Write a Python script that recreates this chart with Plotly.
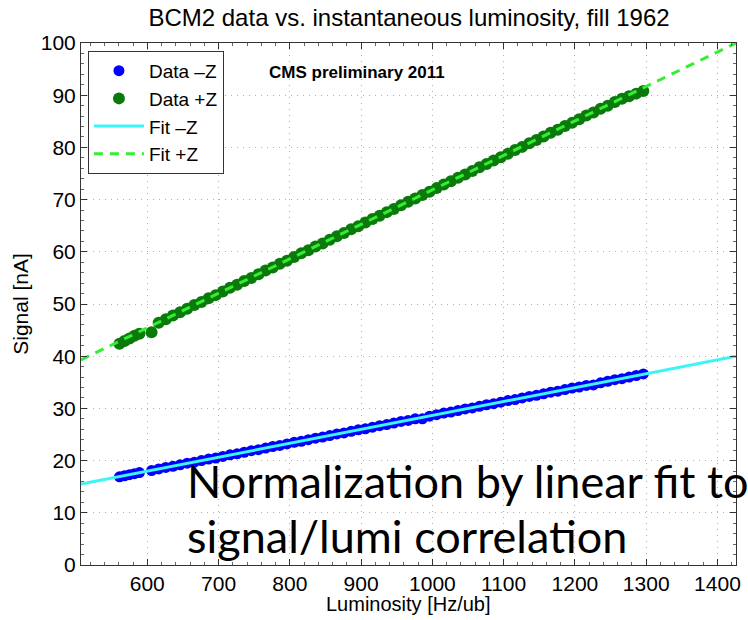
import plotly.graph_objects as go

# ---- data ----
lumi = [561, 568, 575, 582, 589,
        606, 616, 626, 636, 646, 656, 666, 676, 686, 696,
        706, 716, 726, 736, 746, 756, 766, 776, 786, 796,
        806, 816, 826, 836, 846, 856, 866, 876, 886, 896,
        906, 916, 926, 936, 946, 956, 966, 976, 986, 996,
        1006, 1016, 1026, 1036, 1046, 1056, 1066, 1076, 1086, 1096,
        1106, 1116, 1126, 1136, 1146, 1156, 1166, 1176, 1186, 1196,
        1206, 1216, 1226, 1236, 1246, 1256, 1266, 1276, 1286, 1296]

signal_minus = [16.9, 17.1, 17.3, 17.5, 17.7,
                18.1, 18.4, 18.7, 18.9, 19.2, 19.5, 19.7, 20.0, 20.3, 20.5,
                20.8, 21.1, 21.3, 21.6, 21.9, 22.1, 22.4, 22.7, 22.9, 23.2,
                23.5, 23.7, 24.0, 24.3, 24.5, 24.8, 25.1, 25.3, 25.6, 25.9,
                26.1, 26.4, 26.7, 26.9, 27.2, 27.5, 27.7, 28.0, 28.0, 28.5,
                28.8, 29.1, 29.3, 29.6, 29.9, 30.1, 30.4, 30.7, 30.9, 31.2,
                31.5, 31.7, 32.0, 32.3, 32.5, 32.8, 33.1, 33.3, 33.6, 33.9,
                34.1, 34.4, 34.5, 34.9, 35.2, 35.5, 35.7, 36.0, 36.3, 36.6]

signal_plus = [42.4, 42.9, 43.4, 43.9, 44.3,
               44.6, 46.4, 47.1, 47.8, 48.4, 49.1, 49.8, 50.4, 51.1, 51.7,
               52.4, 53.1, 53.7, 54.4, 55.0, 55.7, 56.4, 57.0, 57.7, 58.3,
               59.0, 59.7, 60.3, 61.0, 61.6, 62.3, 63.0, 63.6, 64.3, 64.9,
               65.6, 66.3, 66.9, 67.6, 68.2, 68.9, 69.6, 70.2, 70.9, 71.5,
               72.2, 72.9, 73.5, 74.2, 74.8, 75.5, 76.2, 76.8, 77.5, 78.1,
               78.8, 79.5, 80.1, 80.8, 81.4, 82.1, 82.8, 83.4, 84.1, 84.7,
               85.4, 86.1, 86.7, 87.4, 88.0, 88.7, 89.3, 89.8, 90.3, 90.8]

fit_lumi = [507, 1426]
fit_minus = [15.5, 40.0]
fit_plus = [39.3, 100.0]

x_ticks = [600, 700, 800, 900, 1000, 1100, 1200, 1300, 1400]
y_ticks = [0, 10, 20, 30, 40, 50, 60, 70, 80, 90, 100]

FONT = "Liberation Sans, Arial, Helvetica, sans-serif"

fig = go.Figure()
fig.add_trace(go.Scatter(x=lumi, y=signal_minus, mode="markers", name="Data \u2013Z",
                         marker=dict(color="#0000ff", size=11)))
fig.add_trace(go.Scatter(x=lumi, y=signal_plus, mode="markers", name="Data +Z",
                         marker=dict(color="#0a7a0a", size=12)))
fig.add_trace(go.Scatter(x=fit_lumi, y=fit_minus, mode="lines", name="Fit \u2013Z",
                         line=dict(color="#3cf5f5", width=3)))
fig.add_trace(go.Scatter(x=fit_lumi, y=fit_plus, mode="lines", name="Fit +Z",
                         line=dict(color="#33ee33", width=3, dash="9px,7px")))

axis_common = dict(
    showline=True, linecolor="#333333", linewidth=1, mirror="ticks",
    ticks="inside", ticklen=6, tickcolor="#333333",
    showgrid=True, gridcolor="#b0b0b0", griddash="1px,5px", gridwidth=1,
    zeroline=False,
    tickfont=dict(family=FONT, size=21, color="black"),
)

fig.update_xaxes(range=[507, 1426], tickvals=x_ticks, **axis_common,
                 minor=dict(ticks="inside", ticklen=3, dtick=20, tickcolor="#666666", showgrid=False),
                 ticklabelstandoff=0)
fig.update_yaxes(range=[0, 100], tickvals=y_ticks, **axis_common,
                 minor=dict(ticks="inside", ticklen=3, dtick=2, tickcolor="#666666", showgrid=False),
                 title=dict(text="Signal [nA]", font=dict(family=FONT, size=21, color="black"), standoff=6))

fig.update_layout(
    width=748, height=620,
    margin=dict(l=81, r=7, t=43, b=55),
    paper_bgcolor="white", plot_bgcolor="white",
    title=dict(text="BCM2 data vs. instantaneous luminosity, fill 1962",
               font=dict(family=FONT, size=24, color="black"),
               x=(409) / 748, xanchor="center", y=1 - 18 / 620, yanchor="middle"),
    legend=dict(x=0.0106, y=0.985, xanchor="left", yanchor="top",
                bgcolor="white", bordercolor="#333333", borderwidth=1,
                font=dict(family=FONT, size=19, color="black"),
                tracegroupgap=0, itemwidth=50),
    showlegend=True,
)

# x-axis title placed as text below the tick labels
fig.add_annotation(text="Luminosity [Hz/ub]", xref="paper", yref="paper",
                   x=0.5, y=-(604 - 565) / 522, xanchor="center", yanchor="middle",
                   showarrow=False, font=dict(family=FONT, size=20, color="black"))

fig.add_annotation(text="<b>CMS preliminary 2011</b>", xref="paper", yref="paper",
                   x=(268 - 81) / 660, y=(565 - 72) / 522, xanchor="left", yanchor="middle",
                   showarrow=False, font=dict(family=FONT, size=17, color="black"))

fig.add_annotation(text="Normalization by linear fit to", xref="paper", yref="paper",
                   x=(186 - 81) / 660, y=(565 - 481) / 522, xanchor="left", yanchor="middle",
                   showarrow=False, font=dict(family="Lato, sans-serif", size=45, color="black"))
fig.add_annotation(text="signal/lumi correlation", xref="paper", yref="paper",
                   x=(186 - 81) / 660, y=(565 - 536) / 522, xanchor="left", yanchor="middle",
                   showarrow=False, font=dict(family="Lato, sans-serif", size=45, color="black"))

fig.write_html("out.html")
